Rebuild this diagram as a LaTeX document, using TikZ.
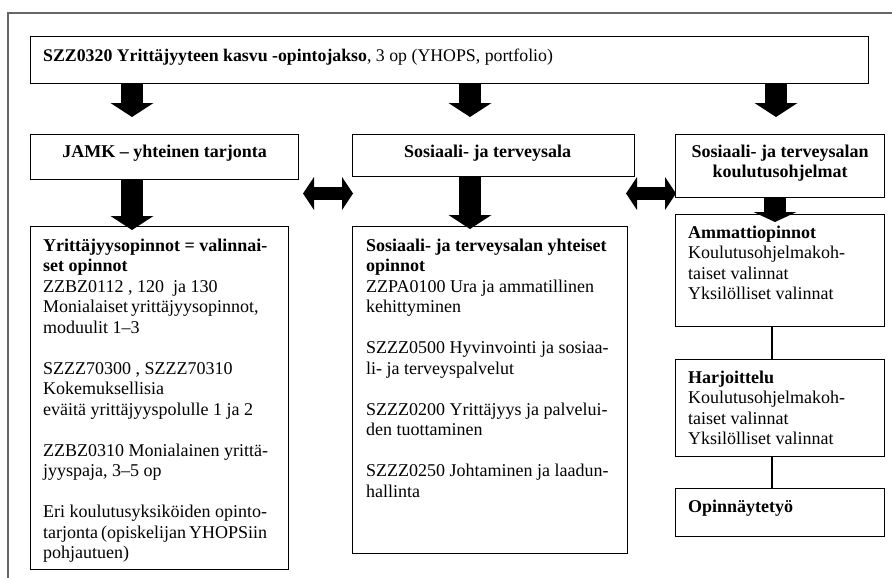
\documentclass[tikz,border=0pt]{standalone}
\usepackage{fontspec}
\setmainfont{Liberation Serif}
\usetikzlibrary{arrows.meta,calc}
\begin{document}
\begin{tikzpicture}[x=1pt,y=-1pt,
  box/.style={draw, line width=1.2pt, inner sep=0pt, anchor=north west},
  txt/.style={inner sep=0pt, anchor=base west, font=\fontsize{18}{20.5}\selectfont},
  ctxt/.style={inner sep=0pt, anchor=base, font=\fontsize{18}{20.5}\selectfont},
  blk/.style={line width=22pt, -{Triangle[length=14pt,width=43pt,line width=0pt]}},
  blks/.style={line width=22pt, -{Triangle[length=10pt,width=43pt,line width=0pt]}},
  dbl/.style={line width=13pt, {Triangle[length=11pt,width=33pt,line width=0pt]}-{Triangle[length=11pt,width=33pt,line width=0pt]}},
  conn/.style={line width=1.2pt},
  frame/.style={draw=black!60, line width=1.2pt}]
\useasboundingbox (0,0) rectangle (892,578);
% outer frame
\draw[frame] (8,578) -- (8,13) -- (892,13);
% boxes
\node[box, minimum width=838pt, minimum height=47pt] (top) at (30,36) {};
\node[box, minimum width=268pt, minimum height=45pt] (jamk) at (30,134) {};
\node[box, minimum width=282pt, minimum height=42pt] (sos) at (352,134) {};
\node[box, minimum width=209pt, minimum height=63pt] (kou) at (675,134) {};
\node[box, minimum width=258pt, minimum height=343pt] (yrit) at (30,226) {};
\node[box, minimum width=275pt, minimum height=327pt] (yht) at (352,226) {};
\node[box, minimum width=209pt, minimum height=112pt] (amm) at (675,214) {};
\node[box, minimum width=209pt, minimum height=97pt] (harj) at (675,359) {};
\node[box, minimum width=209pt, minimum height=48pt] (opin) at (675,488) {};
% texts
\node[txt, font=\fontsize{17.8}{20.5}\selectfont] (ttop) at ($(top.north west)+(13,26)$) {\textbf{SZZ0320 Yrittäjyyteen kasvu -opintojakso}, 3 op (YHOPS, portfolio)};
\node[ctxt] (tjamk) at ($(jamk.north)+(0,23)$) {\textbf{JAMK – yhteinen tarjonta}};
\node[ctxt] (tsos) at ($(sos.north)+(-6,23)$) {\textbf{Sosiaali- ja terveysala}};
\node[ctxt] (tkou) at ($(kou.north)+(0,23)$) {\parbox[t]{205pt}{\centering\textbf{Sosiaali- ja terveysalan}\\\textbf{koulutusohjelmat}}};
\node[txt] (tyrit) at ($(yrit.north west)+(13,25)$) {\parbox[t]{245pt}{\raggedright
\textbf{Yrittäjyysopinnot = valinnai-}\\
\textbf{set opinnot}\\
ZZBZ0112 , 120\ \ ja 130\\
\makebox[214pt][s]{Monialaiset yrittäjyysopinnot,}\\
moduulit 1–3\\[20.5pt]
SZZZ70300 , SZZZ70310\\
Kokemuksellisia\\
eväitä yrittäjyyspolulle 1 ja 2\\[20.5pt]
ZZBZ0310 Monialainen yrittä-\\
jyyspaja, 3–5 op\\[20.5pt]
\makebox[224pt][s]{Eri koulutusyksiköiden opinto-}\\
\makebox[224pt][s]{tarjonta (opiskelijan YHOPSiin}\\
pohjautuen)}};
\node[txt] (tyht) at ($(yht.north west)+(14,25)$) {\parbox[t]{260pt}{\raggedright
\textbf{Sosiaali- ja terveysalan yhteiset}\\
\textbf{opinnot}\\
ZZPA0100 Ura ja ammatillinen\\
kehittyminen\\[20.5pt]
SZZZ0500 Hyvinvointi ja sosiaa-\\
li- ja terveyspalvelut\\[20.5pt]
SZZZ0200 Yrittäjyys ja palvelui-\\
den tuottaminen\\[20.5pt]
SZZZ0250 Johtaminen ja laadun-\\
hallinta}};
\node[txt] (tamm) at ($(amm.north west)+(13,24)$) {\parbox[t]{195pt}{\raggedright
\textbf{Ammattiopinnot}\\
Koulutusohjelmakoh-\\
taiset valinnat\\
Yksilölliset valinnat}};
\node[txt] (tharj) at ($(harj.north west)+(13,24)$) {\parbox[t]{195pt}{\raggedright
\textbf{Harjoittelu}\\
Koulutusohjelmakoh-\\
taiset valinnat\\
Yksilölliset valinnat}};
\node[txt] (topin) at ($(opin.north west)+(13,24)$) {\textbf{Opinnäytetyö}};
% arrow coordinates
\coordinate (t1) at (132,117);
\coordinate (t2) at (470,117);
\coordinate (t3) at (776,117);
\coordinate (t4) at (132,230);
\coordinate (t5) at (470,229);
\coordinate (t6) at (775,222);
\coordinate (c1) at (772,0);
\coordinate (d1a) at (303,193.5);
\coordinate (d1b) at (353,193.5);
\coordinate (d2a) at (626,193.5);
\coordinate (d2b) at (676,193.5);
% block arrows
\draw[blk] (top.south -| t1) -- (t1);
\draw[blk] (top.south -| t2) -- (t2);
\draw[blk] (top.south -| t3) -- (t3);
\draw[blk] (jamk.south -| t4) -- (t4);
\draw[blk] (sos.south -| t5) -- (t5);
\draw[blks] (kou.south -| t6) -- (t6);
\draw[dbl] (d1a) -- (d1b);
\draw[dbl] (d2a) -- (d2b);
% connectors
\draw[conn] (amm.south -| c1) -- (harj.north -| c1);
\draw[conn] (harj.south -| c1) -- (opin.north -| c1);
\end{tikzpicture}
\end{document}
